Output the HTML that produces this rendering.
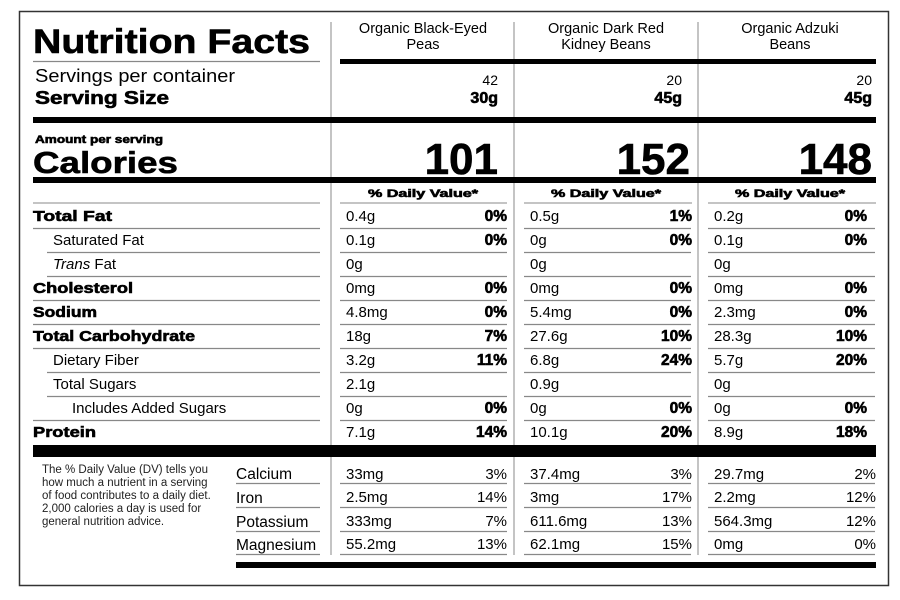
<!DOCTYPE html>
<html><head><meta charset="utf-8"><style>
html,body{margin:0;padding:0;background:#fff;}
svg{display:block;font-family:"Liberation Sans",Arial,sans-serif;}
.b{font-weight:bold}
.h{font-weight:bold;stroke:#000;stroke-width:0.6}
</style></head><body>
<svg width="900" height="600" viewBox="0 0 900 600">
<rect x="0" y="0" width="900" height="600" fill="#fff"/>
<rect x="19.5" y="11.5" width="869" height="574" fill="none" stroke="#333" stroke-width="1.5"/>
<g stroke="#888" stroke-width="1">
<line x1="331" y1="22" x2="331" y2="555"/>
<line x1="514" y1="22" x2="514" y2="555"/>
<line x1="698" y1="22" x2="698" y2="555"/>
</g>
<text x="33" y="53" font-size="34" class="h" stroke-width="1.2" textLength="277" lengthAdjust="spacingAndGlyphs">Nutrition Facts</text>
<line x1="33" y1="61.5" x2="320" y2="61.5" stroke="#888" stroke-width="1.2"/>
<g font-size="14.5" text-anchor="middle">
<text x="423" y="33">Organic Black-Eyed</text><text x="423" y="49">Peas</text>
<text x="606" y="33">Organic Dark Red</text><text x="606" y="49">Kidney Beans</text>
<text x="790" y="33">Organic Adzuki</text><text x="790" y="49">Beans</text>
</g>
<rect x="340" y="59" width="536" height="5" fill="#000"/>
<text x="35" y="82" font-size="18.5" textLength="200" lengthAdjust="spacingAndGlyphs">Servings per container</text>
<text x="35" y="104" font-size="18.5" class="h" stroke-width="0.7" textLength="134" lengthAdjust="spacingAndGlyphs">Serving Size</text>
<g font-size="14" text-anchor="end">
<text x="498" y="85">42</text><text x="682" y="85">20</text><text x="872" y="85">20</text>
</g>
<g font-size="16" text-anchor="end" class="h">
<text x="498" y="103">30g</text><text x="682" y="103">45g</text><text x="872" y="103">45g</text>
</g>
<rect x="33" y="117" width="843" height="6" fill="#000"/>
<text x="35" y="143" font-size="11" class="h" stroke-width="0.4" textLength="128" lengthAdjust="spacingAndGlyphs">Amount per serving</text>
<text x="33" y="173" font-size="31" class="h" stroke-width="1" textLength="145" lengthAdjust="spacingAndGlyphs">Calories</text>
<g font-size="44" class="h" stroke-width="1.2" text-anchor="end">
<text x="498" y="174">101</text><text x="690" y="174">152</text><text x="872" y="174">148</text>
</g>
<rect x="33" y="177" width="843" height="6" fill="#000"/>
<g font-size="11" class="h" stroke-width="0.4" text-anchor="middle">
<text x="423" y="197" textLength="110" lengthAdjust="spacingAndGlyphs">% Daily Value*</text><text x="606" y="197" textLength="110" lengthAdjust="spacingAndGlyphs">% Daily Value*</text><text x="790" y="197" textLength="110" lengthAdjust="spacingAndGlyphs">% Daily Value*</text>
</g>
<line x1="33" y1="203" x2="320" y2="203" stroke="#888"/>
<line x1="340" y1="203" x2="507" y2="203" stroke="#888"/>
<line x1="524" y1="203" x2="692" y2="203" stroke="#888"/>
<line x1="708" y1="203" x2="876" y2="203" stroke="#888"/>
<g font-size="15">
<text x="33" y="221" class="h" textLength="79" lengthAdjust="spacingAndGlyphs">Total Fat</text>
<text x="53" y="245">Saturated Fat</text>
<text x="53" y="269"><tspan font-style="italic">Trans</tspan> Fat</text>
<text x="33" y="293" class="h" textLength="100" lengthAdjust="spacingAndGlyphs">Cholesterol</text>
<text x="33" y="317" class="h" textLength="64" lengthAdjust="spacingAndGlyphs">Sodium</text>
<text x="33" y="341" class="h" textLength="162" lengthAdjust="spacingAndGlyphs">Total Carbohydrate</text>
<text x="53" y="365">Dietary Fiber</text>
<text x="53" y="389">Total Sugars</text>
<text x="72" y="413">Includes Added Sugars</text>
<text x="33" y="437" class="h" textLength="63" lengthAdjust="spacingAndGlyphs">Protein</text>
</g>
<g stroke="#888" stroke-width="1.2">
<line x1="33" y1="228.5" x2="320" y2="228.5"/>
<line x1="47" y1="252.5" x2="320" y2="252.5"/>
<line x1="47" y1="276.5" x2="320" y2="276.5"/>
<line x1="33" y1="300.5" x2="320" y2="300.5"/>
<line x1="33" y1="324.5" x2="320" y2="324.5"/>
<line x1="33" y1="348.5" x2="320" y2="348.5"/>
<line x1="47" y1="372.5" x2="320" y2="372.5"/>
<line x1="47" y1="396.5" x2="320" y2="396.5"/>
<line x1="33" y1="420.5" x2="320" y2="420.5"/>
</g>
<g stroke="#888" stroke-width="1.2" id="cl">
<line x1="340" y1="228.5" x2="507" y2="228.5"/><line x1="340" y1="252.5" x2="507" y2="252.5"/><line x1="340" y1="276.5" x2="507" y2="276.5"/><line x1="340" y1="300.5" x2="507" y2="300.5"/><line x1="340" y1="324.5" x2="507" y2="324.5"/><line x1="340" y1="348.5" x2="507" y2="348.5"/><line x1="340" y1="372.5" x2="507" y2="372.5"/><line x1="340" y1="396.5" x2="507" y2="396.5"/><line x1="340" y1="420.5" x2="507" y2="420.5"/>
</g>
<use href="#cl" x="184"/>
<use href="#cl" x="368"/>
<g font-size="15">
<text x="346" y="221">0.4g</text><text x="346" y="245">0.1g</text><text x="346" y="269">0g</text><text x="346" y="293">0mg</text><text x="346" y="317">4.8mg</text><text x="346" y="341">18g</text><text x="346" y="365">3.2g</text><text x="346" y="389">2.1g</text><text x="346" y="413">0g</text><text x="346" y="437">7.1g</text>
<text x="530" y="221">0.5g</text><text x="530" y="245">0g</text><text x="530" y="269">0g</text><text x="530" y="293">0mg</text><text x="530" y="317">5.4mg</text><text x="530" y="341">27.6g</text><text x="530" y="365">6.8g</text><text x="530" y="389">0.9g</text><text x="530" y="413">0g</text><text x="530" y="437">10.1g</text>
<text x="714" y="221">0.2g</text><text x="714" y="245">0.1g</text><text x="714" y="269">0g</text><text x="714" y="293">0mg</text><text x="714" y="317">2.3mg</text><text x="714" y="341">28.3g</text><text x="714" y="365">5.7g</text><text x="714" y="389">0g</text><text x="714" y="413">0g</text><text x="714" y="437">8.9g</text>
</g>
<g font-size="15.5" class="h" stroke-width="0.5" text-anchor="end">
<text x="507" y="221">0%</text><text x="507" y="245">0%</text><text x="507" y="293">0%</text><text x="507" y="317">0%</text><text x="507" y="341">7%</text><text x="507" y="365">11%</text><text x="507" y="413">0%</text><text x="507" y="437">14%</text>
<text x="692" y="221">1%</text><text x="692" y="245">0%</text><text x="692" y="293">0%</text><text x="692" y="317">0%</text><text x="692" y="341">10%</text><text x="692" y="365">24%</text><text x="692" y="413">0%</text><text x="692" y="437">20%</text>
<text x="867" y="221">0%</text><text x="867" y="245">0%</text><text x="867" y="293">0%</text><text x="867" y="317">0%</text><text x="867" y="341">10%</text><text x="867" y="365">20%</text><text x="867" y="413">0%</text><text x="867" y="437">18%</text>
</g>
<rect x="33" y="445" width="843" height="12" fill="#000"/>
<g font-size="11.5" fill="#222">
<text x="42" y="473">The % Daily Value (DV) tells you</text>
<text x="42" y="486">how much a nutrient in a serving</text>
<text x="42" y="499">of food contributes to a daily diet.</text>
<text x="42" y="512">2,000 calories a day is used for</text>
<text x="42" y="525">general nutrition advice.</text>
</g>
<g font-size="15.5">
<text x="236" y="479">Calcium</text><text x="236" y="503">Iron</text><text x="236" y="527">Potassium</text><text x="236" y="550">Magnesium</text>
</g>
<g stroke="#888" stroke-width="1.2">
<line x1="236" y1="483.5" x2="320" y2="483.5"/><line x1="236" y1="507.5" x2="320" y2="507.5"/><line x1="236" y1="531.5" x2="320" y2="531.5"/><line x1="236" y1="554.5" x2="320" y2="554.5"/>
</g>
<g stroke="#888" stroke-width="1.2" id="bc">
<line x1="340" y1="483.5" x2="507" y2="483.5"/><line x1="340" y1="507.5" x2="507" y2="507.5"/><line x1="340" y1="531.5" x2="507" y2="531.5"/><line x1="340" y1="554.5" x2="507" y2="554.5"/>
</g>
<use href="#bc" x="184"/>
<use href="#bc" x="368"/>
<g font-size="15">
<text x="346" y="479">33mg</text><text x="346" y="502">2.5mg</text><text x="346" y="526">333mg</text><text x="346" y="549">55.2mg</text>
<text x="530" y="479">37.4mg</text><text x="530" y="502">3mg</text><text x="530" y="526">611.6mg</text><text x="530" y="549">62.1mg</text>
<text x="714" y="479">29.7mg</text><text x="714" y="502">2.2mg</text><text x="714" y="526">564.3mg</text><text x="714" y="549">0mg</text>
</g>
<g font-size="15" text-anchor="end">
<text x="507" y="479">3%</text><text x="507" y="502">14%</text><text x="507" y="526">7%</text><text x="507" y="549">13%</text>
<text x="692" y="479">3%</text><text x="692" y="502">17%</text><text x="692" y="526">13%</text><text x="692" y="549">15%</text>
<text x="876" y="479">2%</text><text x="876" y="502">12%</text><text x="876" y="526">12%</text><text x="876" y="549">0%</text>
</g>
<rect x="236" y="562" width="640" height="6" fill="#000"/>
</svg>
</body></html>
